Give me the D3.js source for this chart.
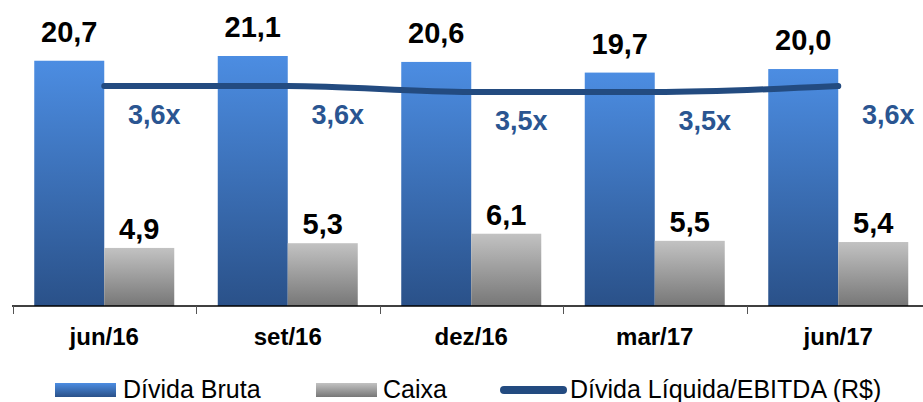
<!DOCTYPE html>
<html>
<head>
<meta charset="utf-8">
<script src="https://cdn.jsdelivr.net/npm/d3@7"></script>
<style>
  html, body { margin: 0; padding: 0; background: #fff; }
  svg { display: block; font-family: "Liberation Sans", Arial, sans-serif; }
</style>
</head>
<body>
<div id="chart"></div>
<script>
// chart data
const periods = ['jun/16', 'set/16', 'dez/16', 'mar/17', 'jun/17'];
const dividaBruta = [20.7, 21.1, 20.6, 19.7, 20.0];
const caixa = [4.9, 5.3, 6.1, 5.5, 5.4];
const alavancagem = [3.6, 3.6, 3.5, 3.5, 3.6];
const legendLabels = ['Dívida Bruta', 'Caixa', 'Dívida Líquida/EBITDA (R$)'];

const width = 923;
const height = 402;
const baseY = 306;
const barW = 70;

const fmt = v => v.toFixed(1).replace('.', ',');

const svg = d3.select('#chart')
  .append('svg')
  .attr('width', width)
  .attr('height', height);

const defs = svg.append('defs');

function vGradient(id, top, bottom) {
  const g = defs.append('linearGradient')
    .attr('id', id)
    .attr('x1', 0).attr('y1', 0)
    .attr('x2', 0).attr('y2', 1);
  g.append('stop').attr('offset', '0%').attr('stop-color', top);
  g.append('stop').attr('offset', '100%').attr('stop-color', bottom);
}
vGradient('grad-blue', '#4c8de2', '#2a5189');
vGradient('grad-gray', '#c2c2c2', '#777777');

// scales
const x = d3.scaleBand()
  .domain(periods)
  .range([12.5, 930])
  .padding(0);

const y = d3.scaleLinear()
  .domain([0, 21.1])
  .range([baseY, 56]);

// secondary axis for the leverage ratio (hidden)
const y2 = d3.scaleLinear()
  .domain([3.0, 4.0])
  .range([122, 62]);

const center = d => x(d) + x.bandwidth() / 2;

// bars - divida bruta
svg.append('g')
  .selectAll('rect')
  .data(periods)
  .join('rect')
  .attr('x', d => center(d) - barW)
  .attr('y', (d, i) => y(dividaBruta[i]))
  .attr('width', barW)
  .attr('height', (d, i) => baseY - y(dividaBruta[i]))
  .attr('fill', 'url(#grad-blue)');

// bars - caixa
svg.append('g')
  .selectAll('rect')
  .data(periods)
  .join('rect')
  .attr('x', d => center(d))
  .attr('y', (d, i) => y(caixa[i]))
  .attr('width', barW)
  .attr('height', (d, i) => baseY - y(caixa[i]))
  .attr('fill', 'url(#grad-gray)');

// value labels
svg.append('g')
  .selectAll('text')
  .data(periods)
  .join('text')
  .attr('x', d => center(d) - barW / 2)
  .attr('y', (d, i) => y(dividaBruta[i]) - 19)
  .attr('text-anchor', 'middle')
  .attr('font-size', '29px')
  .attr('font-weight', 'bold')
  .attr('fill', '#000')
  .text((d, i) => fmt(dividaBruta[i]));

svg.append('g')
  .selectAll('text')
  .data(periods)
  .join('text')
  .attr('x', d => center(d) + barW / 2)
  .attr('y', (d, i) => y(caixa[i]) - 9)
  .attr('text-anchor', 'middle')
  .attr('font-size', '29px')
  .attr('font-weight', 'bold')
  .attr('fill', '#000')
  .text((d, i) => fmt(caixa[i]));

// leverage line
const line = d3.line()
  .x(d => center(d))
  .y((d, i) => y2(alavancagem[i]))
  .curve(d3.curveMonotoneX);

svg.append('path')
  .datum(periods)
  .attr('d', line)
  .attr('fill', 'none')
  .attr('stroke', '#234b80')
  .attr('stroke-width', 6)
  .attr('stroke-linecap', 'round');

svg.append('g')
  .selectAll('text')
  .data(periods)
  .join('text')
  .attr('x', d => center(d) + 50)
  .attr('y', (d, i) => y2(alavancagem[i]) + 38)
  .attr('text-anchor', 'middle')
  .attr('font-size', '27px')
  .attr('font-weight', 'bold')
  .attr('fill', '#2a5591')
  .text((d, i) => fmt(alavancagem[i]) + 'x');

// x axis
const axis = svg.append('g')
  .attr('transform', `translate(0, ${baseY})`);

axis.append('line')
  .attr('x1', x.range()[0] - 0.5)
  .attr('x2', width)
  .attr('stroke', '#000')
  .attr('stroke-width', 1.5);

axis.selectAll('.tick')
  .data(periods)
  .join('line')
  .attr('class', 'tick')
  .attr('x1', d => Math.round(x(d)) + 0.5)
  .attr('x2', d => Math.round(x(d)) + 0.5)
  .attr('y1', 0)
  .attr('y2', 8)
  .attr('stroke', '#555')
  .attr('stroke-width', 1);

axis.selectAll('.cat')
  .data(periods)
  .join('text')
  .attr('class', 'cat')
  .attr('x', d => center(d))
  .attr('y', 39)
  .attr('text-anchor', 'middle')
  .attr('font-size', '24px')
  .attr('font-weight', 'bold')
  .attr('fill', '#000')
  .text(d => d);

// legend
const legend = svg.append('g')
  .attr('transform', 'translate(0, 390)');

const legendX = [55, 316, 500];

legend.append('rect')
  .attr('x', legendX[0]).attr('y', -7)
  .attr('width', 61).attr('height', 14)
  .attr('fill', 'url(#grad-blue)');

legend.append('rect')
  .attr('x', legendX[1]).attr('y', -7)
  .attr('width', 61).attr('height', 14)
  .attr('fill', 'url(#grad-gray)');

legend.append('line')
  .attr('x1', legendX[2] + 4).attr('x2', legendX[2] + 63)
  .attr('y1', 0).attr('y2', 0)
  .attr('stroke', '#234b80')
  .attr('stroke-width', 8)
  .attr('stroke-linecap', 'round');

const textX = [123, 383, 570];
legend.selectAll('.legend-text')
  .data(legendLabels)
  .join('text')
  .attr('class', 'legend-text')
  .attr('x', (d, i) => textX[i])
  .attr('y', 8)
  .attr('font-size', '25px')
  .attr('fill', '#000')
  .text(d => d);
</script>
</body>
</html>
